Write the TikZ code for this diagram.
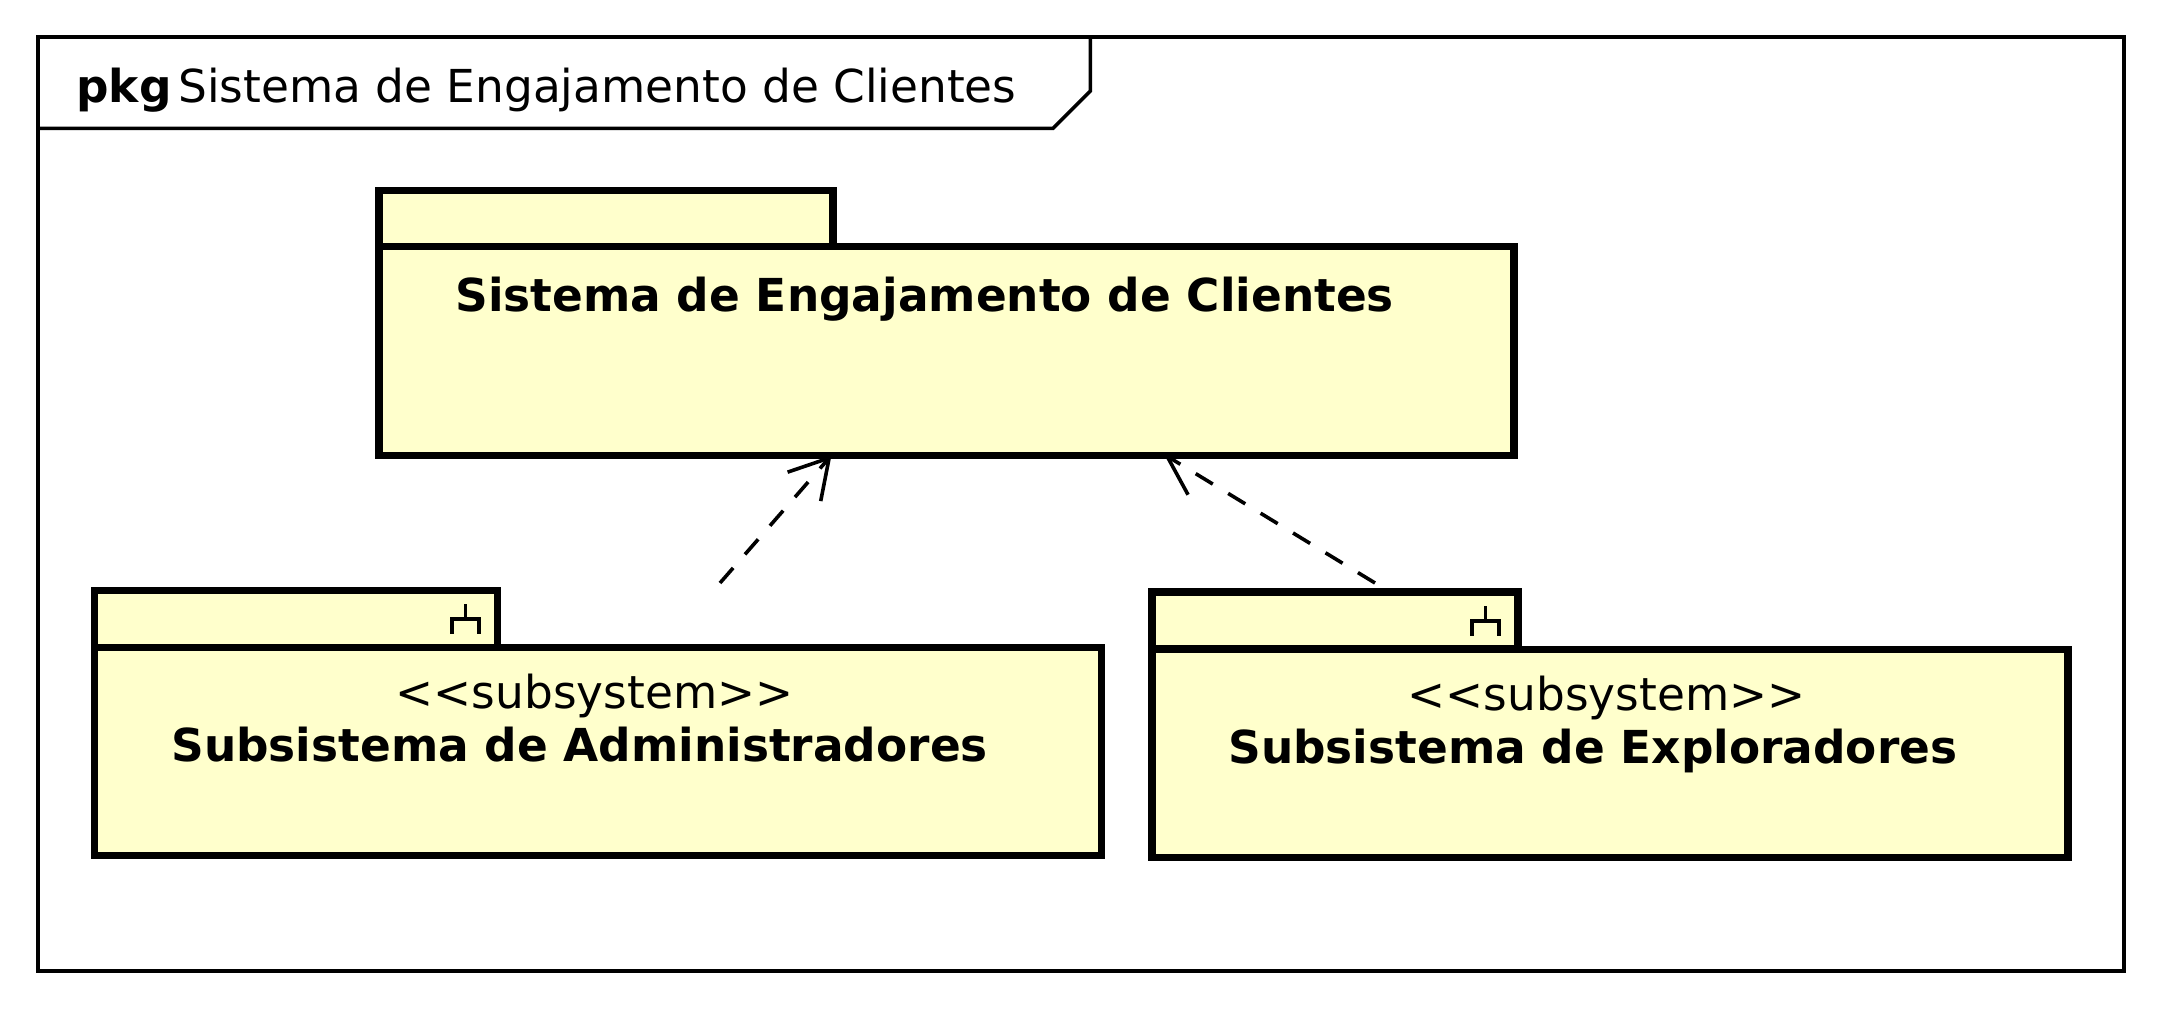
\documentclass[tikz,border=0pt]{standalone}
\usepackage{fontspec}
\setmainfont{DejaVu Sans}
\usetikzlibrary{arrows.meta}
\definecolor{pkgyellow}{HTML}{FFFFCC}
\tikzset{
  pkg body/.style={rectangle,draw,fill=pkgyellow,line width=3.8pt,inner sep=0pt},
  pkg label/.style={anchor=base west,inner sep=0pt,font=\fontsize{22.7}{26}\selectfont},
  pkg name/.style={pkg label,font=\fontsize{22.7}{26}\selectfont\bfseries},
  stereo/.style={anchor=base,inner sep=0pt,font=\fontsize{22.7}{26}\selectfont},
  dep/.style={dashed,dash pattern=on 10pt off 9pt,line width=1.8pt,-{Straight Barb[length=19pt,width=22pt]}},
  fork/.pic={\draw[line width=1.8pt] (-6.75,7.5) -- (-6.75,0) -- (6.75,0) -- (6.75,7.5) (0,0) -- (0,-7.5);}
}
\begin{document}
\begin{tikzpicture}[x=1pt,y=-1pt]
\useasboundingbox (0,0) rectangle (1080,505);
% outer frame
\node [rectangle,draw,line width=1.8pt,minimum width=1043pt,minimum height=466.7pt,inner sep=0pt](frame) at (540.5,252) {};
\draw [line width=1.8pt] (frame.west |- 0,64.2) -- (526.5,64.2) -- (545.2,45.5) -- (545.2,18.8);
\node [pkg name](framekind) at (38,51.5) {pkg};
\node [pkg label](frametitle) at (89,51.5) {Sistema de Engajamento de Clientes};
% packages
\node [pkg body,minimum width=227pt,minimum height=28pt](maintab) at (303,109.2) {};
\node [pkg body,minimum width=567.5pt,minimum height=104.5pt](main) at (473.25,175.5) {};
\node [pkg body,minimum width=201.5pt,minimum height=28.5pt](admtab) at (147.9,309.5) {};
\node [pkg body,minimum width=503.5pt,minimum height=104pt](adm) at (298.9,375.7) {};
\node [pkg body,minimum width=183pt,minimum height=28.5pt](exptab) at (667.5,310.25) {};
\node [pkg body,minimum width=458pt,minimum height=104pt](exp) at (805,376.7) {};
\pic at (232.7,309.5) {fork};
\pic at (742.7,310.5) {fork};
% texts
\node [pkg name](mainname) at (227.5,156) {Sistema de Engajamento de Clientes};
\node [stereo](admstereo) at (297.3,354.5) {<{}<subsystem>{}>};
\node [pkg name](admname) at (85.5,381) {Subsistema de Administradores};
\node [stereo](expstereo) at (803.3,355.5) {<{}<subsystem>{}>};
\node [pkg name](expname) at (614,381.5) {Subsistema de Exploradores};
% dependencies
\coordinate (admfree) at (360,291.5);
\coordinate (expfree) at (687.5,291.5);
\path
	(admfree) edge[dep] ([xshift=-57.5pt,yshift=2pt]main.south)
	(expfree) edge[dep] ([xshift=108.75pt,yshift=2.5pt]main.south)
	;
\end{tikzpicture}
\end{document}
